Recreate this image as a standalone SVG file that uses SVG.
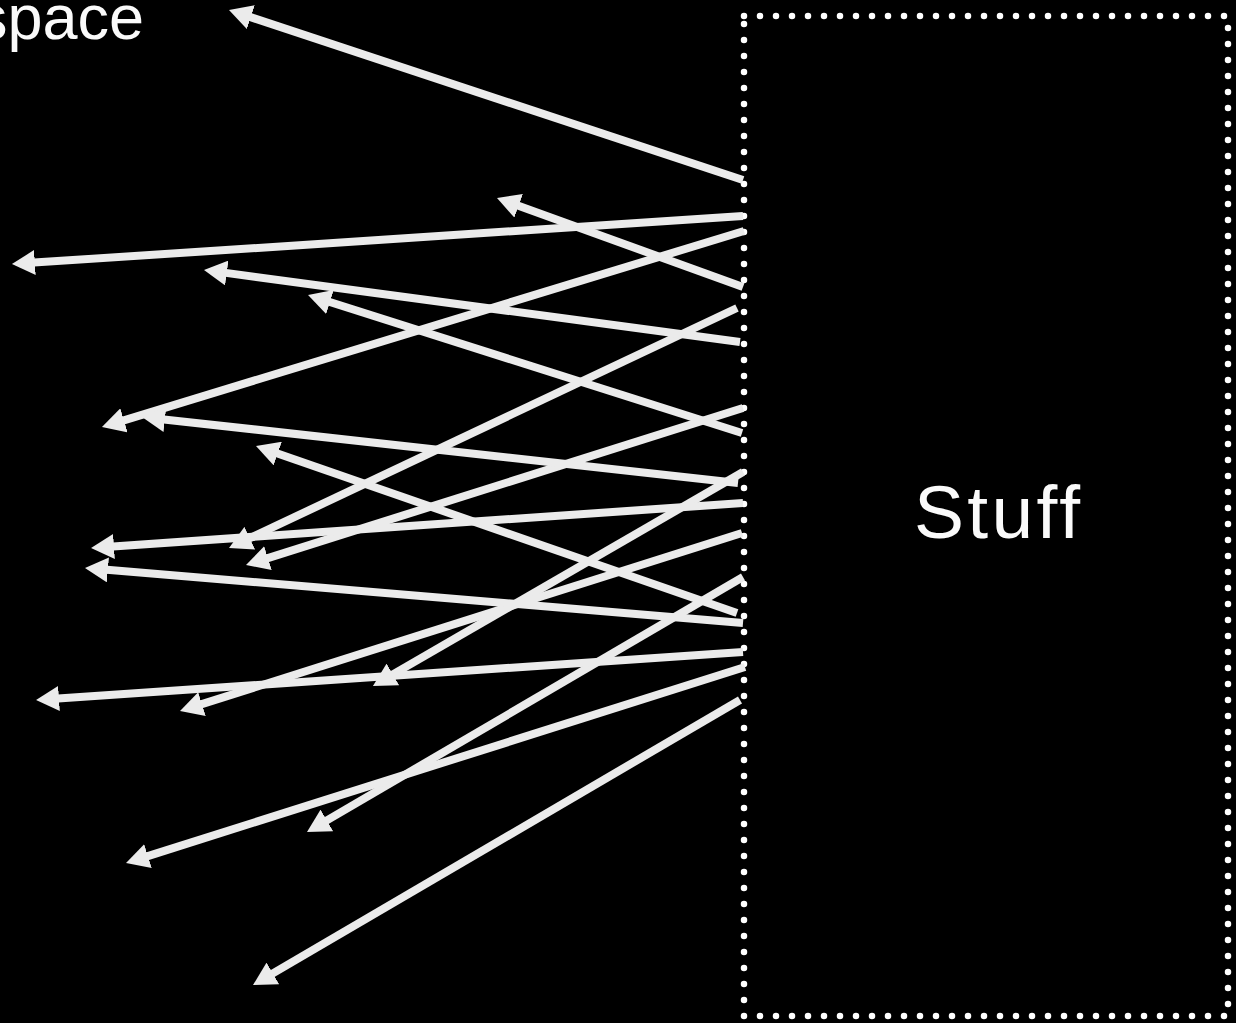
<svg xmlns="http://www.w3.org/2000/svg" width="1236" height="1023" viewBox="0 0 1236 1023">
<style>
.bg{fill:#000}
.lbl{font-family:"Liberation Sans",Arial,sans-serif;fill:#fafafa}
.box{fill:none;stroke:#fff;stroke-width:6.5;stroke-dasharray:0 16;stroke-linecap:round}
.arr{stroke:#ebebeb;stroke-width:8;fill:none;marker-end:url(#ah)}
</style>
<defs>
<marker id="ah" markerUnits="userSpaceOnUse" markerWidth="25" markerHeight="25" viewBox="0 0 25 25" refX="1" refY="12.5" orient="auto">
<path d="M0,0 L23,12.5 L0,25 z" fill="#ebebeb"/>
</marker>
</defs>
<rect class="bg" x="0" y="0" width="1236" height="1023"/>
<g id="space">
<text class="lbl" x="144" y="38.5" font-size="63" text-anchor="end">space</text>
</g>
<g id="stuff">
<rect class="box" x="744" y="16" width="484" height="1000"/>
<text class="lbl" x="914" y="538" font-size="75" textLength="166" lengthAdjust="spacing">Stuff</text>
</g>
<g id="connectors">
<line class="arr" x1="743" y1="180" x2="249.9" y2="16.9"/>
<line class="arr" x1="743" y1="216" x2="33.9" y2="262.6"/>
<line class="arr" x1="744" y1="231" x2="123.0" y2="420.6"/>
<line class="arr" x1="743" y1="287" x2="517.7" y2="205.5"/>
<line class="arr" x1="737" y1="308" x2="248.9" y2="538.6"/>
<line class="arr" x1="740" y1="342" x2="225.8" y2="272.9"/>
<line class="arr" x1="743" y1="408" x2="267.0" y2="558.4"/>
<line class="arr" x1="742" y1="433" x2="329.0" y2="301.7"/>
<line class="arr" x1="743" y1="472" x2="392.0" y2="674.9"/>
<line class="arr" x1="738" y1="483" x2="163.9" y2="419.4"/>
<line class="arr" x1="743" y1="503" x2="113.0" y2="546.5"/>
<line class="arr" x1="742" y1="533" x2="201.0" y2="704.4"/>
<line class="arr" x1="743" y1="577" x2="326.0" y2="820.9"/>
<line class="arr" x1="737" y1="613" x2="276.8" y2="453.2"/>
<line class="arr" x1="743" y1="623" x2="106.9" y2="569.8"/>
<line class="arr" x1="743" y1="652" x2="58.0" y2="698.5"/>
<line class="arr" x1="745" y1="667" x2="147.0" y2="856.4"/>
<line class="arr" x1="740" y1="700" x2="272.0" y2="973.9"/>
</g>
</svg>
